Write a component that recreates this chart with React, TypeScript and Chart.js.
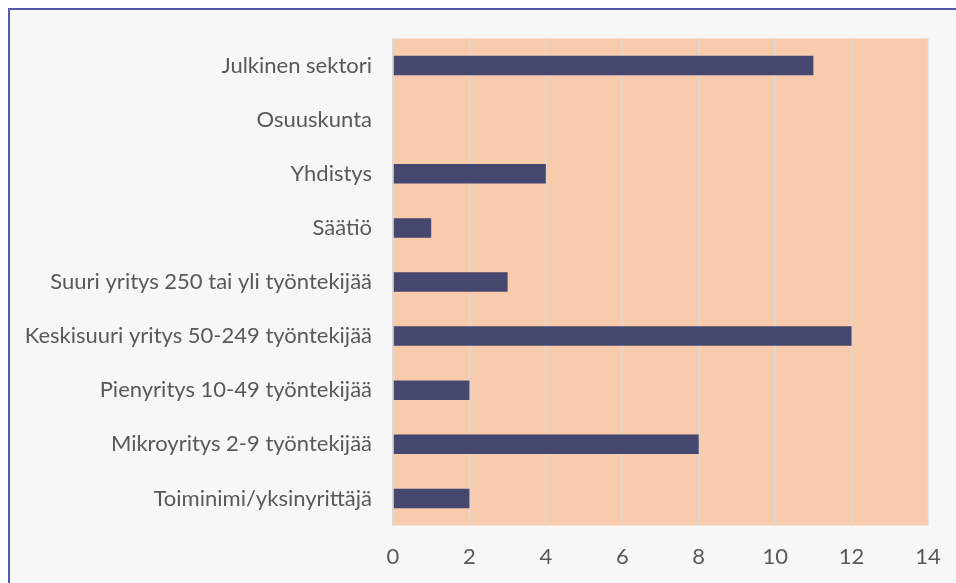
import React, { useEffect, useRef } from "react";
import { Chart, registerables } from "chart.js";

Chart.register(...registerables);

const categories = [
  "Julkinen sektori",
  "Osuuskunta",
  "Yhdistys",
  "Säätiö",
  "Suuri yritys 250 tai yli työntekijää",
  "Keskisuuri yritys 50-249 työntekijää",
  "Pienyritys 10-49 työntekijää",
  "Mikroyritys 2-9 työntekijää",
  "Toiminimi/yksinyrittäjä",
];
const values = [11, 0, 4, 1, 3, 12, 2, 8, 2];
const xMin = 0;
const xMax = 14;
const xStep = 2;

const FONT = "Lato, 'Liberation Sans', sans-serif";

const plotBg = {
  id: "plotBg",
  beforeDraw(chart: any) {
    const { ctx, chartArea } = chart;
    if (!chartArea) return;
    ctx.save();
    ctx.fillStyle = "#F8CBAD";
    ctx.fillRect(chartArea.left, chartArea.top, chartArea.right - chartArea.left, chartArea.bottom - chartArea.top);
    ctx.restore();
  },
};

function noPad(axis: any) {
  axis.paddingTop = 0;
  axis.paddingBottom = 0;
  axis.paddingLeft = 0;
  axis.paddingRight = 0;
}

export default function App() {
  const ref = useRef<HTMLCanvasElement | null>(null);
  useEffect(() => {
    if (!ref.current) return;
    const chart = new Chart(ref.current, {
      type: "bar",
      data: {
        labels: categories,
        datasets: [
          {
            data: values,
            backgroundColor: "#45476F",
            borderWidth: 0,
            barPercentage: 0.36,
            categoryPercentage: 1,
          },
        ],
      },
      options: {
        indexAxis: "y",
        animation: false,
        responsive: false,
        maintainAspectRatio: false,
        layout: { padding: { left: 0, top: 28.5, right: 28, bottom: 0 } },
        plugins: { legend: { display: false }, tooltip: { enabled: false } },
        scales: {
          x: {
            min: xMin,
            max: xMax,
            ticks: { stepSize: xStep, color: "#595959", font: { family: FONT, size: 22 }, padding: 18 },
            grid: { display: true, color: "#D9D9D9", lineWidth: 1.6, drawTicks: false },
            border: { display: false },
            afterFit: (axis: any) => {
              axis.height = 57.5;
              noPad(axis);
            },
          },
          y: {
            ticks: { color: "#595959", font: { family: FONT, size: 22 }, padding: 21, autoSkip: false },
            grid: { display: false, drawTicks: false },
            border: { display: false },
            afterFit: (axis: any) => {
              axis.width = 383;
              noPad(axis);
            },
          },
        },
      },
      plugins: [plotBg],
    });
    return () => chart.destroy();
  }, []);
  return (
    <div
      style={{
        position: "absolute",
        left: 8,
        top: 8,
        right: 0,
        bottom: 0,
        boxSizing: "border-box",
        overflow: "hidden",
        borderTop: "2px solid #5659A6",
        borderLeft: "2px solid #5659A6",
        background: "#F7F7F7",
      }}
    >
      <canvas ref={ref} width={946} height={573} style={{ display: "block" }} />
    </div>
  );
}
